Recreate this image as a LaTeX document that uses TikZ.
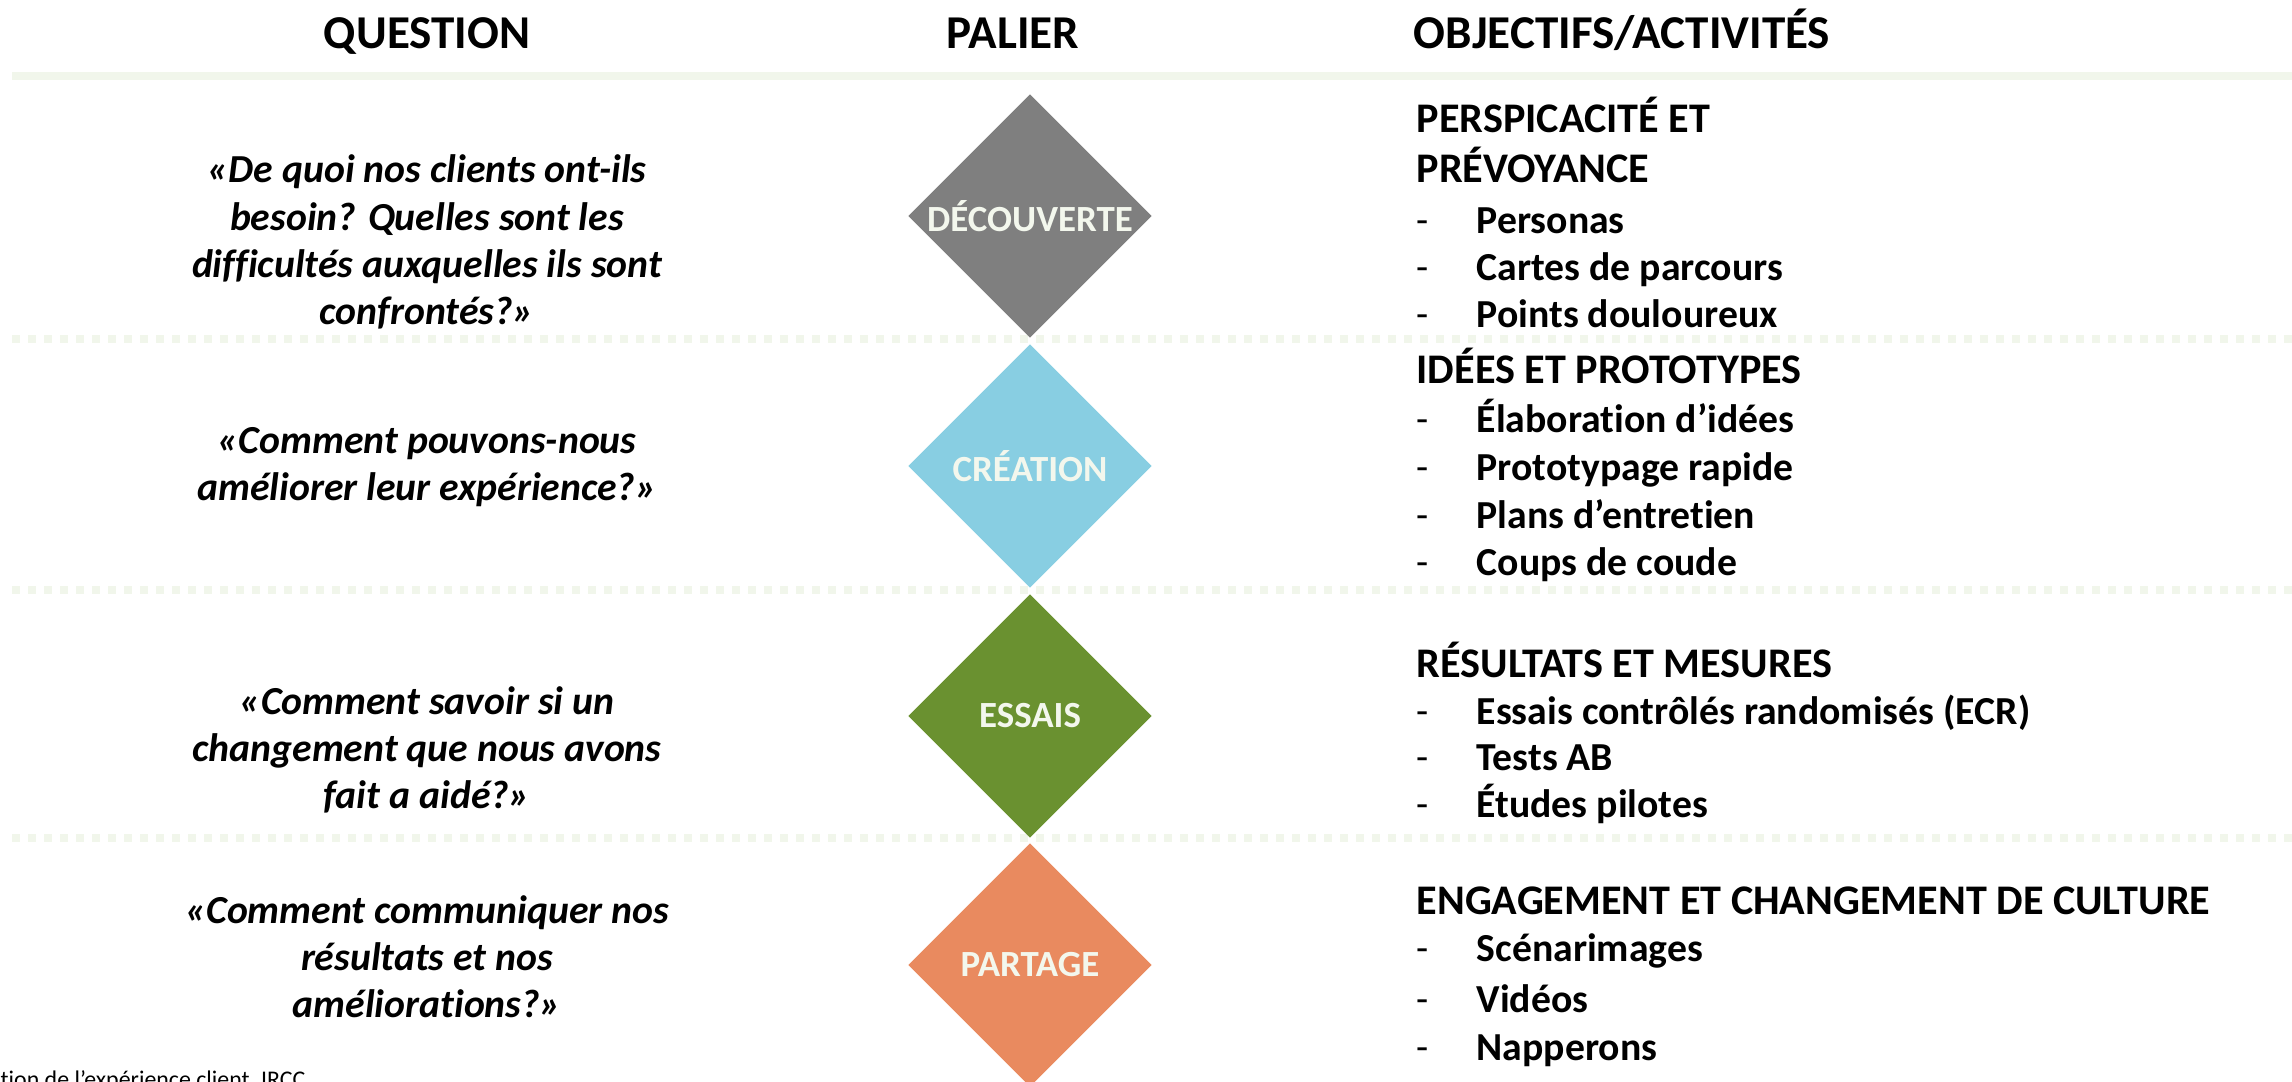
\documentclass[tikz,border=0pt]{standalone}
\usepackage{fontspec}
\setmainfont{Carlito}[Ligatures=NoCommon]
\usetikzlibrary{shapes.geometric}

\definecolor{bande}{HTML}{F1F6EB}
\definecolor{etiq}{HTML}{F3F7ED}
\definecolor{coldecouv}{HTML}{7F7F7F}
\definecolor{colcrea}{HTML}{88CEE2}
\definecolor{colessai}{HTML}{6A9130}
\definecolor{colpartage}{HTML}{E98A5F}

\newcommand{\tiret}{\makebox[6mm][l]{\mdseries -}}

\tikzset{
  titre/.style={anchor=base, font=\bfseries\fontsize{13.4}{16}\selectfont},
  question/.style={align=center, font=\bfseries\itshape\fontsize{11.3}{13.4}\selectfont},
  palier/.style={diamond, minimum width=24.4mm, minimum height=24.4mm, inner sep=0pt,
    text=etiq, font=\bfseries\fontsize{10.5}{12}\selectfont},
  objectif/.style={anchor=mid west, inner sep=0pt, font=\bfseries\fontsize{12}{14}\selectfont},
  activite/.style={anchor=mid west, inner sep=0pt, font=\bfseries\fontsize{11.3}{13}\selectfont},
  separation/.style={line width=0.8mm, bande, dash pattern=on 0.8mm off 0.8mm},
}

\begin{document}
\begin{tikzpicture}[x=0.1mm, y=-0.1mm]
\useasboundingbox (0,0) rectangle (2292,1081);
\clip (0,0) rectangle (2292,1081);

% en-tete
\node [titre] (tquestion) at (427,48) {QUESTION};
\node [titre] (tpalier) at (1013,48) {PALIER};
\node [titre] (tobjectif) at (1622,48) {OBJECTIFS/ACTIVITÉS};
\fill [bande] (12,72) rectangle (2292,80);

% lignes pointillees entre les paliers
\draw [separation] (12,339) -- (2292,339);
\draw [separation] (12,590) -- (2292,590);
\draw [separation] (12,838) -- (2292,838);

% paliers
\node [palier, fill=coldecouv] (decouverte) at (1030,216) {DÉCOUVERTE};
\node [palier, fill=colcrea] (creation) at (1030,466) {CRÉATION};
\node [palier, fill=colessai] (essais) at (1030,716) {ESSAIS};
\node [palier, fill=colpartage] (partage) at (1030,965) {PARTAGE};

% questions
\node [question] (q1) at (427,242) {«De quoi nos clients ont-ils\\besoin? Quelles sont les\\difficultés auxquelles ils sont\\confrontés?»};
\node [question] (q2) at (427,467) {«Comment pouvons-nous\\améliorer leur expérience?»};
\node [question] (q3) at (427,750) {«Comment savoir si un\\changement que nous avons\\fait a aidé?»};
\node [question] (q4) at (427,957) {«Comment communiquer nos\\résultats et nos\\améliorations?»};

% objectifs et activites
\node [objectif] (o1) at (1416,124) {PERSPICACITÉ ET};
\node [objectif] (o1b) at (1416,174) {PRÉVOYANCE};
\node [activite] (a11) at (1416,225) {\tiret Personas};
\node [activite] (a12) at (1416,272) {\tiret Cartes de parcours};
\node [activite] (a13) at (1416,319) {\tiret Points douloureux};

\node [objectif] (o2) at (1416,375) {IDÉES ET PROTOTYPES};
\node [activite] (a21) at (1416,424) {\tiret Élaboration d’idées};
\node [activite] (a22) at (1416,472) {\tiret Prototypage rapide};
\node [activite] (a23) at (1416,520) {\tiret Plans d’entretien};
\node [activite] (a24) at (1416,567) {\tiret Coups de coude};

\node [objectif] (o3) at (1416,669) {RÉSULTATS ET MESURES};
\node [activite] (a31) at (1416,716) {\tiret Essais contrôlés randomisés (ECR)};
\node [activite] (a32) at (1416,762) {\tiret Tests AB};
\node [activite] (a33) at (1416,809) {\tiret Études pilotes};

\node [objectif] (o4) at (1416,906) {ENGAGEMENT ET CHANGEMENT DE CULTURE};
\node [activite] (a41) at (1416,953) {\tiret Scénarimages};
\node [activite] (a42) at (1416,1004) {\tiret Vidéos};
\node [activite] (a43) at (1416,1052) {\tiret Napperons};

% source, coupee par le bas
\node [anchor=north west, inner sep=0pt, font=\fontsize{6.8}{8}\selectfont] (source) at (0,1070) {tion de l’expérience client, IRCC};
\end{tikzpicture}
\end{document}
